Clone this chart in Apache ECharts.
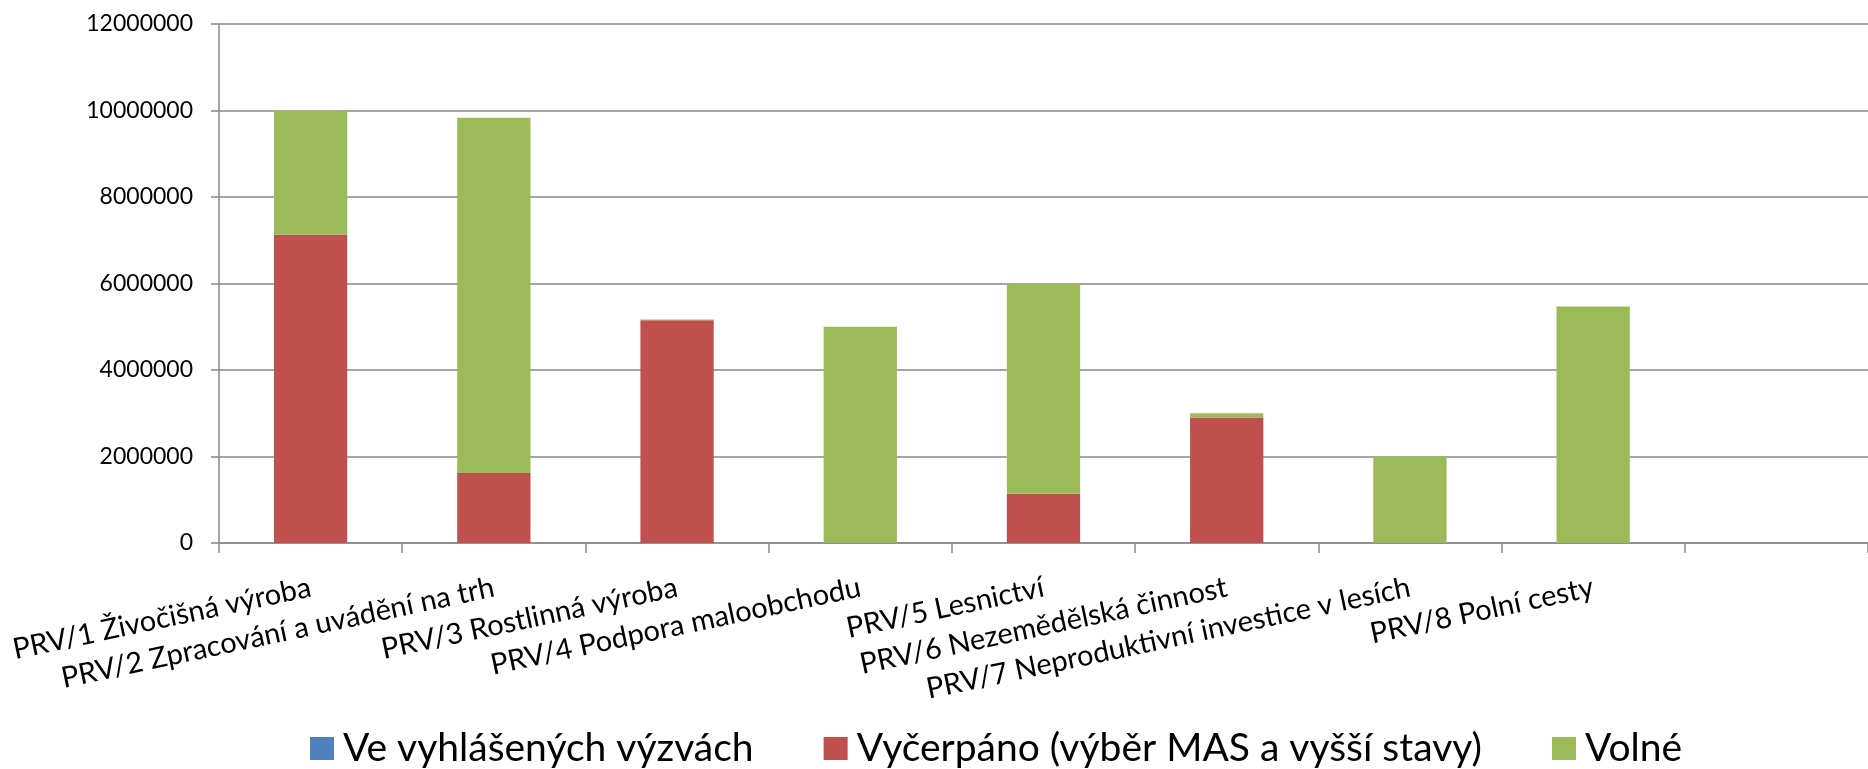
<!DOCTYPE html>
<html>
<head>
<meta charset="utf-8">
<script src="https://cdn.jsdelivr.net/npm/echarts@6/dist/echarts.min.js"></script>
<style>
html,body{margin:0;padding:0;background:#fff;}
#c{width:1868px;height:769px;}
</style>
</head>
<body>
<div id="c"></div>
<script>
var categories = ["PRV/1 Živočišná výroba", "PRV/2 Zpracování a uvádění na trh", "PRV/3 Rostlinná výroba", "PRV/4 Podpora maloobchodu", "PRV/5 Lesnictví", "PRV/6 Nezemědělská činnost", "PRV/7 Neproduktivní investice v lesích", "PRV/8 Polní cesty", ""];
var seriesNames = ["Ve vyhlášených výzvách", "Vyčerpáno (výběr MAS a vyšší stavy)", "Volné"];
var vyhlaseno = [0, 0, 0, 0, 0, 0, 0, 0, 0];
var vycerpano = [7130000, 1620000, 5150000, 0, 1140000, 2900000, 0, 0, 0];
var volne = [2870000, 8210000, 20000, 5000000, 4860000, 100000, 2000000, 5470000, 0];
var colors = ["#4F81BD", "#C0504D", "#9BBB59"];

var chart = echarts.init(document.getElementById('c'), null, {renderer: 'canvas'});
var FONT = 'Lato';
chart.setOption({
  animation: false,
  color: colors,
  grid: {left: 219, right: 0, top: 24, bottom: 226},
  legend: {
    left: 305, top: 724,
    itemWidth: 24, itemHeight: 23, itemGap: 70,
    icon: 'rect',
    textStyle: {fontFamily: FONT, fontSize: 39, color: '#000', padding: [0, 0, 0, 4]},
    data: seriesNames
  },
  xAxis: {
    type: 'category',
    data: categories,
    axisLine: {lineStyle: {color: '#898989', width: 1.5}},
    axisTick: {show: true, length: 10, lineStyle: {color: '#898989', width: 1.5}},
    axisLabel: {rotate: 12, margin: 44, interval: 0, fontFamily: FONT, fontSize: 29, color: '#000'}
  },
  yAxis: {
    type: 'value',
    min: 0, max: 12000000, interval: 2000000,
    axisLine: {show: true, lineStyle: {color: '#898989', width: 1.5}},
    axisTick: {show: true, length: 8, lineStyle: {color: '#898989', width: 1.5}},
    splitLine: {lineStyle: {color: '#898989', width: 1.5}},
    axisLabel: {margin: 26, fontFamily: FONT, fontSize: 23, color: '#000', formatter: function (v) { return String(v); }}
  },
  series: [
    {name: seriesNames[0], type: 'bar', stack: 's', barWidth: '40%', data: vyhlaseno},
    {name: seriesNames[1], type: 'bar', stack: 's', barWidth: '40%', data: vycerpano},
    {name: seriesNames[2], type: 'bar', stack: 's', barWidth: '40%', data: volne}
  ]
});
</script>
</body>
</html>
